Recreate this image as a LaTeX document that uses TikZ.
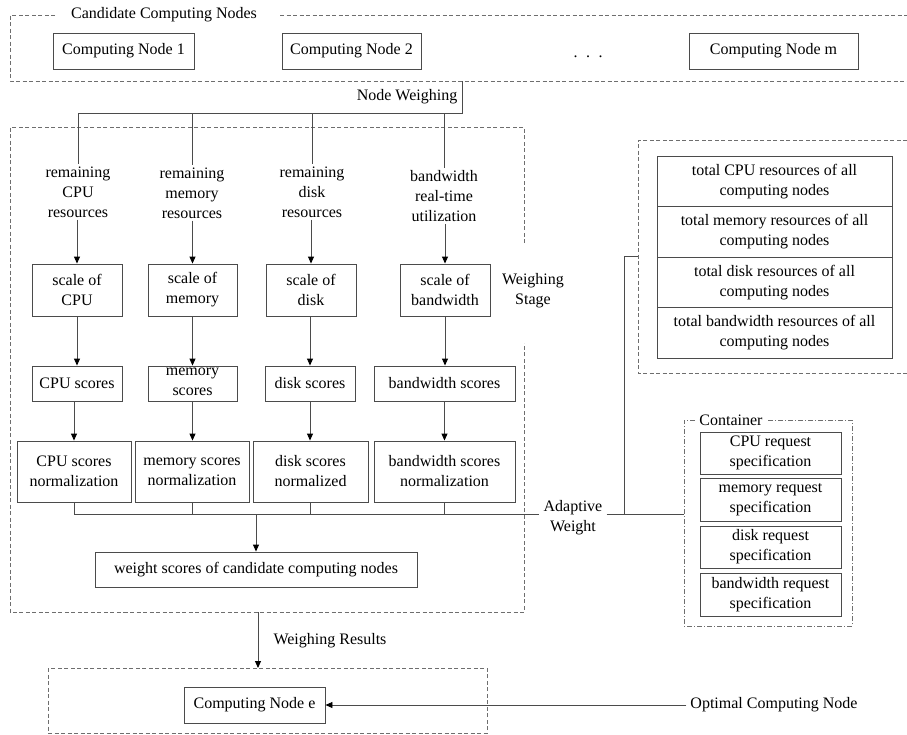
\documentclass[tikz,border=0pt]{standalone}
\usepackage{fontspec}
\setmainfont{Liberation Serif}
\usetikzlibrary{arrows.meta,calc}
\definecolor{lc}{RGB}{75,75,75}
\definecolor{dc}{RGB}{110,110,110}
\begin{document}
\begin{tikzpicture}[x=1pt,y=-1pt,font=\fontsize{16pt}{20pt}\selectfont,
  bx/.style={draw=lc,line width=0.9pt,align=center,inner sep=0pt,fill=white},
  lbl/.style={align=center,inner sep=2pt},
  ln/.style={draw=lc,line width=0.9pt},
  arr/.style={ln,-{Triangle[length=7pt,width=6pt,black]}},
  dsh/.style={draw=dc,line width=0.9pt,dash pattern=on 4pt off 2.5pt},
  dshdot/.style={draw=dc,line width=0.9pt,dash pattern=on 5pt off 2pt on 1pt off 2pt}]
\useasboundingbox (0,0) rectangle (907,734);
\clip (0,0) rectangle (907,734);

% ---------- Candidate computing nodes ----------
\draw[dsh] (55,15) -- (10,15) -- (10,81) -- (920,81);
\draw[dsh] (280,15) -- (920,15);
\node[lbl] (cand) at (164,15) {Candidate Computing Nodes};
\node[bx,minimum width=141pt,minimum height=36pt] (cn1) at (123.5,51) {Computing Node 1};
\node[bx,minimum width=139pt,minimum height=36pt] (cn2) at (351.5,51) {Computing Node 2};
\node[anchor=base,inner sep=0pt] (dots) at (588,57) {.\hspace{8.5pt}.\hspace{8.5pt}.};
\node[bx,minimum width=169pt,minimum height=36pt] (cnm) at (773.5,51) {Computing Node m};

% ---------- Node weighing ----------
\node[lbl] (nwl) at (407,97) {Node Weighing};
\coordinate (nwtop) at (462,81);
\coordinate (nwc) at (462,113);
\coordinate (b1) at (78,113);
\coordinate (b2) at (192,113);
\coordinate (b3) at (312,113);
\coordinate (b4) at (444,113);
\draw[ln] (nwtop) -- (nwc) -- (b1);

% ---------- Weighing stage frame ----------
\draw[dsh] (524,243) -- (524,127) -- (10,127) -- (10,612) -- (524,612) -- (524,343);
\node[lbl] (wst) at (533,291) {Weighing\\Stage};

% column texts
\node[lbl] (c1t) at (78,192) {remaining\\CPU\\resources};
\node[lbl] (c2t) at (192,193) {remaining\\memory\\resources};
\node[lbl] (c3t) at (312,192) {remaining\\disk\\resources};
\node[lbl] (c4t) at (444,196) {bandwidth\\real-time\\utilization};
\draw[ln] (b1) -- (c1t.north);
\draw[ln] (b2) -- (c2t.north);
\draw[ln] (b3) -- (c3t.north);
\draw[ln] (b4) -- (c4t.north);

% scale boxes
\node[bx,minimum width=90pt,minimum height=52pt] (s1) at (77,290) {scale of\\CPU};
\node[bx,minimum width=89pt,minimum height=52pt] (s2) at (192.5,290) {scale of\\memory};
\node[bx,minimum width=90pt,minimum height=52pt] (s3) at (311,290) {scale of\\disk};
\node[bx,minimum width=90pt,minimum height=52pt] (s4) at (445,290) {scale of\\bandwidth};
\draw[arr] (c1t.south -| s1) -- (s1.north);
\draw[arr] (c2t.south -| s2) -- (s2.north);
\draw[arr] (c3t.south -| s3) -- (s3.north);
\draw[arr] (c4t.south -| s4) -- (s4.north);

% score boxes
\node[bx,minimum width=90pt,minimum height=35pt] (sc1) at (77,383.5) {CPU scores};
\node[bx,minimum width=89pt,minimum height=35pt] (sc2) at (192.5,383.5) {};
\node[lbl,inner sep=0pt] (sc2t) at (192.5,381.5) {memory\\scores};
\node[bx,minimum width=90pt,minimum height=35pt] (sc3) at (310,383.5) {disk scores};
\node[bx,minimum width=141pt,minimum height=35pt] (sc4) at (444.5,383.5) {bandwidth scores};
\draw[arr] (s1.south) -- (s1.south |- sc1.north);
\draw[arr] (s2.south) -- (sc2.north);
\draw[arr] (sc3.north |- s3.south) -- (sc3.north);
\draw[arr] (s4.south) -- (s4.south |- sc4.north);

% normalization boxes
\node[bx,minimum width=114pt,minimum height=61pt] (n1) at (74,471.5) {CPU scores\\normalization};
\node[bx,minimum width=114pt,minimum height=61pt] (n2) at (192,471.5) {memory scores\\normalization};
\node[bx,minimum width=115pt,minimum height=61pt] (n3) at (310.5,471.5) {disk scores\\normalized};
\node[bx,minimum width=141pt,minimum height=61pt] (n4) at (444.5,471.5) {bandwidth scores\\normalization};
\draw[arr] (sc1.south -| n1) -- (n1.north);
\draw[arr] (sc2.south) -- (sc2.south |- n2.north);
\draw[arr] (sc3.south) -- (sc3.south |- n3.north);
\draw[arr] (sc4.south) -- (sc4.south |- n4.north);

% bus and adaptive weight
\coordinate (busL) at (74,514);
\node[lbl,inner sep=4pt] (aw) at (573,518) {Adaptive\\Weight};
\draw[ln] (n1.south) -- (n1.south |- busL);
\draw[ln] (n2.south) -- (n2.south |- busL);
\draw[ln] (n3.south) -- (n3.south |- busL);
\draw[ln] (n4.south) -- (n4.south |- busL);
\draw[ln] (busL) -- (aw.west |- busL);
\coordinate (bd) at (256,514);
\node[bx,minimum width=322pt,minimum height=35pt] (ws) at (256,569.5) {weight scores of candidate computing nodes};
\draw[arr] (bd) -- (ws.north);

% total resources
\draw[dsh] (920,140) -- (638,140) -- (638,373) -- (920,373);
\node[bx,minimum width=235pt,minimum height=50.5pt] (t1) at (774.5,181.25) {total CPU resources of all\\computing nodes};
\node[bx,minimum width=235pt,minimum height=50.5pt] (t2) at (774.5,231.75) {total memory resources of all\\computing nodes};
\node[bx,minimum width=235pt,minimum height=50.5pt] (t3) at (774.5,282.25) {total disk resources of all\\computing nodes};
\node[bx,minimum width=235pt,minimum height=50.5pt] (t4) at (774.5,332.75) {total bandwidth resources of all\\computing nodes};
\coordinate (totW) at (638,256);
\coordinate (jn) at (624,514);
\coordinate (ctrW) at (684,514);
\draw[ln] (aw.east |- busL) -- (ctrW);
\draw[ln] (jn) -- (jn |- totW) -- (totW);

% container
\draw[dshdot] (695,420) -- (684,420) -- (684,626) -- (852,626) -- (852,420) -- (768,420);
\node[lbl] (ctl) at (731,420) {Container};
\node[bx,minimum width=141pt,minimum height=42pt] (r1) at (770.5,453) {CPU request\\specification};
\node[bx,minimum width=141pt,minimum height=43pt] (r2) at (770.5,499.5) {memory request\\specification};
\node[bx,minimum width=141pt,minimum height=42pt] (r3) at (770.5,547) {disk request\\specification};
\node[bx,minimum width=141pt,minimum height=43pt] (r4) at (770.5,594.5) {bandwidth request\\specification};

% results
\coordinate (wsb) at (258,612);
\coordinate (btop) at (258,668);
\draw[arr] (wsb) -- (btop);
\node[lbl] (wr) at (330,641) {Weighing Results};
\draw[dsh] (48,668) rectangle (487,733);
\node[bx,minimum width=141pt,minimum height=36pt] (cne) at (254.5,705) {Computing Node e};
\node[lbl,inner sep=4pt] (opt) at (774,705) {Optimal Computing Node};
\draw[arr] (opt.west) -- (cne.east);
\end{tikzpicture}
\end{document}
